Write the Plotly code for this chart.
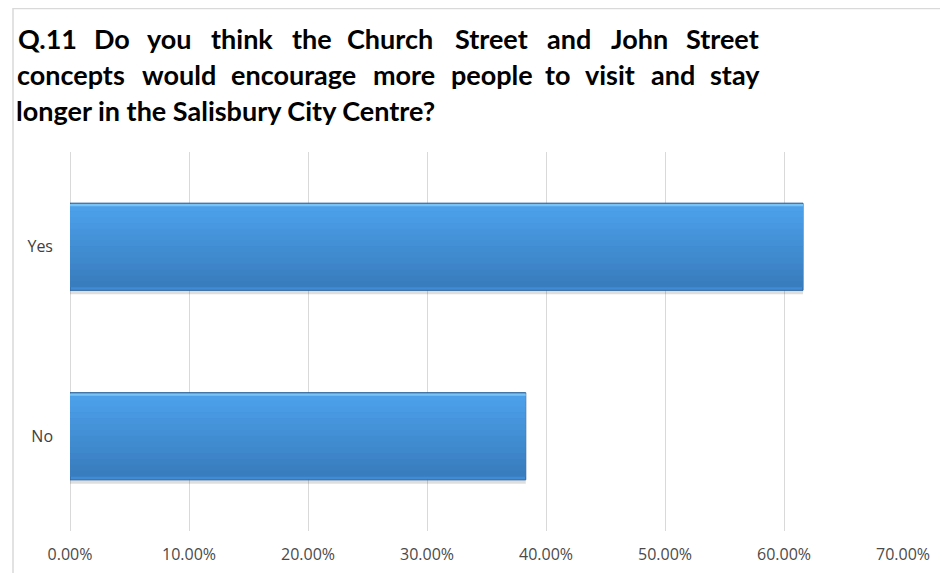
import plotly.graph_objects as go

# Data
categories = ["Yes", "No"]
shares = [0.616, 0.383]

title_lines = [
    ["Q.11", "Do", "you", "think", "the", "Church", "Street", "and", "John", "Street"],
    ["concepts", "would", "encourage", "more", "people", "to", "visit", "and", "stay"],
]
last_line = "longer in the Salisbury City Centre?"

# word centres (px, page coords) for the justified title lines
word_centres = [
    [47, 112, 169, 242, 312, 390, 491, 569, 639, 722],
    [71, 179, 293, 404, 492, 557, 610, 673, 735],
]
line_y = [38, 74, 110]

# the page body adds an 8px margin, so page coords are shifted by it
PAD = 8
W, H = 948, 573
L = 70 - PAD
T = 152 - PAD
R = W - (903 - PAD)
B = H - (531 - PAD)

fig = go.Figure()

bar_w = 0.46

# soft shadow under the bars
fig.add_trace(go.Bar(
    x=shares, y=categories, orientation="h",
    width=bar_w, offset=-bar_w / 2 + 0.02,
    marker=dict(color="rgba(0,0,0,0.13)", line=dict(width=0)),
    hoverinfo="skip", showlegend=False,
))

# base bar
fig.add_trace(go.Bar(
    x=shares, y=categories, orientation="h",
    width=bar_w, offset=-bar_w / 2,
    marker=dict(color="#3f8bd6", line=dict(color="#2d629a", width=1)),
    showlegend=False,
))

# vertical gradient made of thin bands
top_col = (76, 160, 234)
bot_col = (56, 125, 190)
n_bands = 14
inner = bar_w - 0.03
band = inner / n_bands
for i in range(n_bands):
    t = i / (n_bands - 1)
    c = tuple(int(round(a + (b - a) * t)) for a, b in zip(top_col, bot_col))
    fig.add_trace(go.Bar(
        x=shares, y=categories, orientation="h",
        width=band + 0.002, offset=-bar_w / 2 + 0.012 + i * band,
        marker=dict(color="rgb(%d,%d,%d)" % c, line=dict(width=0)),
        hoverinfo="skip", showlegend=False,
    ))

# highlight strip along the top
fig.add_trace(go.Bar(
    x=shares, y=categories, orientation="h",
    width=0.012, offset=-bar_w / 2 + 0.004,
    marker=dict(color="#78c3f4", line=dict(width=0)),
    hoverinfo="skip", showlegend=False,
))

# title, justified like the original
title_font = dict(family="Lato", size=27, color="#000000", weight="bold")
ann = []
for words, centres, py in zip(title_lines, word_centres, line_y):
    for w, cx in zip(words, centres):
        ann.append(dict(
            text=w, xref="paper", yref="paper", x=0, y=1,
            xshift=cx - PAD - L, yshift=T - (py - PAD),
            xanchor="center", yanchor="middle", showarrow=False,
            font=title_font,
        ))
ann.append(dict(
    text=last_line, xref="paper", yref="paper", x=0, y=1,
    xshift=14 - PAD - L, yshift=T - (line_y[2] - PAD),
    xanchor="left", yanchor="middle", showarrow=False,
    font=title_font,
))

pw = W - L - R
ph = H - T - B
fig.update_layout(
    width=W, height=H,
    margin=dict(l=L, r=R, t=T, b=B, autoexpand=False),
    paper_bgcolor="white", plot_bgcolor="white",
    barmode="overlay", bargap=0.54,
    annotations=ann,
    shapes=[dict(
        type="rect", xref="paper", yref="paper",
        x0=(13 - PAD - L) / pw, x1=1.2,
        y0=-0.3, y1=(H - B - 0.5) / ph,
        line=dict(color="#d9d9d9", width=1.5), fillcolor="rgba(0,0,0,0)",
        layer="below",
    )],
    xaxis=dict(
        range=[0, 0.7], dtick=0.1, tickformat=".2%",
        showgrid=True, gridcolor="#d9d9d9", gridwidth=1,
        zeroline=True, zerolinecolor="#d9d9d9", zerolinewidth=1,
        showline=False, ticks="", ticklabelstandoff=12,
        tickfont=dict(family="Open Sans", size=16, color="#4a4a4a"),
        automargin=False, fixedrange=True,
    ),
    yaxis=dict(
        autorange="reversed", showgrid=False, showline=False, ticks="",
        ticklabelstandoff=16, automargin=False,
        tickfont=dict(family="Open Sans", size=16, color="#404040"),
    ),
)

fig.write_html("out.html")
